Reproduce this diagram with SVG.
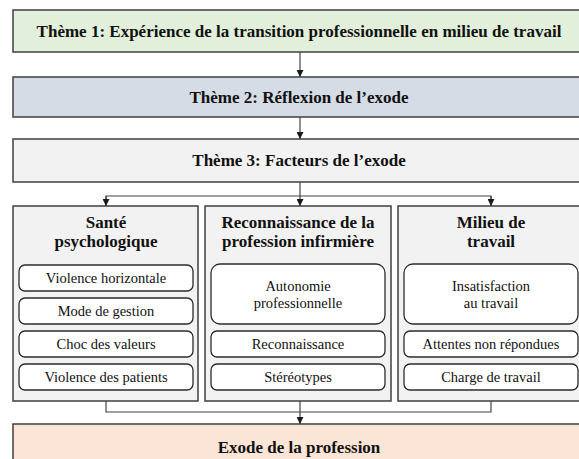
<svg xmlns="http://www.w3.org/2000/svg" width="579" height="459" viewBox="0 0 579 459">
<defs>
<marker id="arr" viewBox="0 0 8 8" refX="8" refY="4" markerWidth="7" markerHeight="7" orient="auto" markerUnits="userSpaceOnUse">
<path d="M0,0 L8,4 L0,8 Z" fill="#1a1a1a"/>
</marker>
<style>
.theme{stroke:#3f3f3f;stroke-width:1.5}
.col{fill:#f2f2f2;stroke:#3f3f3f;stroke-width:1.5}
.item{fill:#ffffff;stroke:#2b2b2b;stroke-width:1.3}
.tb{font-weight:bold;font-size:17px;fill:#111;text-anchor:middle}
.tr{font-size:14.5px;fill:#111;text-anchor:middle}
.conn{fill:none;stroke:#444;stroke-width:1.2}
</style>
</defs>
<rect width="579" height="459" fill="#ffffff"/>

<g font-family="'Liberation Serif', 'DejaVu Serif', serif">
<g id="theme1">
<rect class="theme" x="13" y="10" width="580" height="42" fill="#e2efda"/>
<text class="tb" x="299" y="37">Thème 1: Expérience de la transition professionnelle en milieu de travail</text>
</g>
<g id="theme2">
<rect class="theme" x="13" y="77" width="580" height="40" fill="#d6dce5"/>
<text class="tb" x="299" y="103">Thème 2: Réflexion de l’exode</text>
</g>
<g id="theme3">
<rect class="theme" x="13" y="139" width="580" height="43" fill="#f2f2f2"/>
<text class="tb" x="299" y="166">Thème 3: Facteurs de l’exode</text>
</g>

<g id="col-sante">
<rect class="col" x="13" y="206" width="185" height="195"/>
<text class="tb" x="106" y="228">Santé</text>
<text class="tb" x="106" y="247">psychologique</text>
<g id="violence-horizontale"><rect class="item" x="19" y="265" width="174" height="26" rx="6"/><text class="tr" x="106" y="283">Violence horizontale</text></g>
<g id="mode-gestion"><rect class="item" x="19" y="298" width="174" height="26" rx="6"/><text class="tr" x="106" y="316">Mode de gestion</text></g>
<g id="choc-valeurs"><rect class="item" x="19" y="331" width="174" height="26" rx="6"/><text class="tr" x="106" y="349">Choc des valeurs</text></g>
<g id="violence-patients"><rect class="item" x="19" y="364" width="174" height="26" rx="6"/><text class="tr" x="106" y="382">Violence des patients</text></g>
</g>

<g id="col-reconnaissance">
<rect class="col" x="205" y="206" width="186" height="195"/>
<text class="tb" x="298" y="228">Reconnaissance de la</text>
<text class="tb" x="298" y="247">profession infirmière</text>
<g id="autonomie"><rect class="item" x="211" y="264" width="174" height="60" rx="9"/><text class="tr" x="298" y="291">Autonomie</text><text class="tr" x="298" y="308">professionnelle</text></g>
<g id="reconnaissance"><rect class="item" x="211" y="331" width="174" height="26" rx="6"/><text class="tr" x="298" y="349">Reconnaissance</text></g>
<g id="stereotypes"><rect class="item" x="211" y="364" width="174" height="26" rx="6"/><text class="tr" x="298" y="382">Stéréotypes</text></g>
</g>

<g id="col-milieu">
<rect class="col" x="398" y="206" width="186" height="195"/>
<text class="tb" x="491" y="228">Milieu de</text>
<text class="tb" x="491" y="247">travail</text>
<g id="insatisfaction"><rect class="item" x="404" y="264" width="174" height="60" rx="9"/><text class="tr" x="491" y="291">Insatisfaction</text><text class="tr" x="491" y="308">au travail</text></g>
<g id="attentes"><rect class="item" x="404" y="331" width="174" height="26" rx="6"/><text class="tr" x="491" y="349">Attentes non répondues</text></g>
<g id="charge"><rect class="item" x="404" y="364" width="174" height="26" rx="6"/><text class="tr" x="491" y="382">Charge de travail</text></g>
</g>

<g id="exode">
<rect class="theme" x="13" y="424" width="580" height="50" fill="#fbe5d6"/>
<text class="tb" x="299" y="453">Exode de la profession</text>
</g>
</g>

<g id="connectors">
<line class="conn" x1="300" y1="52" x2="300" y2="77" marker-end="url(#arr)"/>
<line class="conn" x1="300" y1="117" x2="300" y2="139" marker-end="url(#arr)"/>
<line class="conn" x1="300" y1="182" x2="300" y2="206" marker-end="url(#arr)"/>
<polyline class="conn" points="106,206 106,196 491,196 491,206"/>
<line class="conn" x1="106" y1="196" x2="106" y2="206" marker-end="url(#arr)"/>
<line class="conn" x1="491" y1="196" x2="491" y2="206" marker-end="url(#arr)"/>
<polyline class="conn" points="106,401 106,412 491,412 491,401"/>
<line class="conn" x1="300" y1="401" x2="300" y2="424" marker-end="url(#arr)"/>
</g>
</svg>
